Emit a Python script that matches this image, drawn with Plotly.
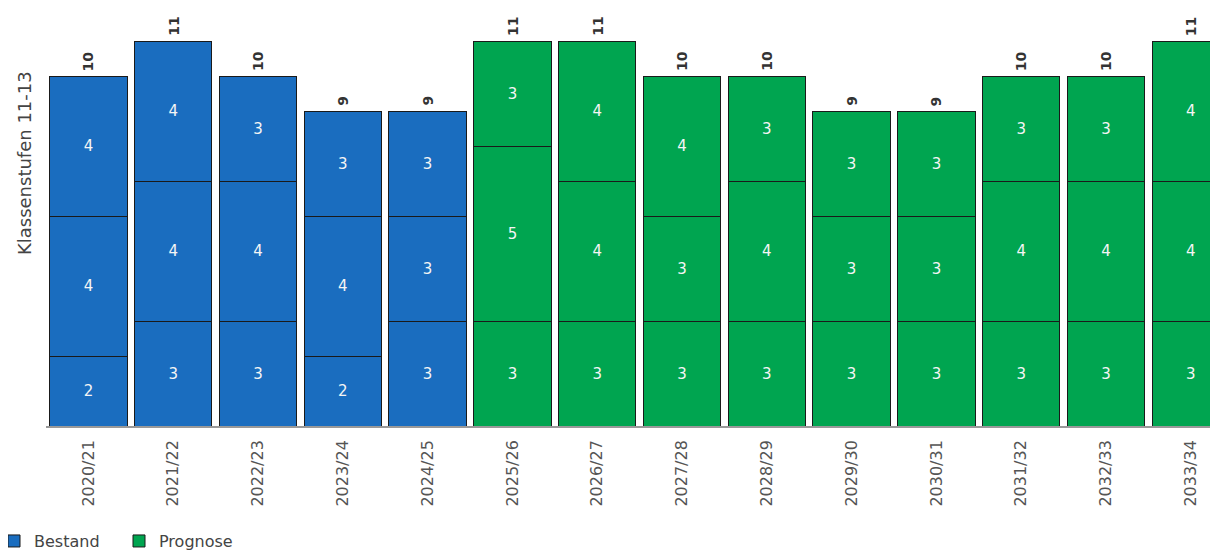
import plotly.graph_objects as go

categories = ["2020/21", "2021/22", "2022/23", "2023/24", "2024/25", "2025/26", "2026/27",
              "2027/28", "2028/29", "2029/30", "2030/31", "2031/32", "2032/33", "2033/34"]
bottom = [2, 3, 3, 2, 3, 3, 3, 3, 3, 3, 3, 3, 3, 3]
middle = [4, 4, 4, 4, 3, 5, 4, 3, 4, 3, 3, 4, 4, 4]
top = [4, 4, 3, 3, 3, 3, 4, 4, 3, 3, 3, 3, 3, 4]
n_bestand = 5
groups = [("Bestand", "#1a6dbf"), ("Prognose", "#00a550")]
y_title = "Klassenstufen 11-13"

fig = go.Figure()
for gi, (name, color) in enumerate(groups):
    sl = slice(0, n_bestand) if gi == 0 else slice(n_bestand, None)
    for si, seg in enumerate([bottom, middle, top]):
        fig.add_trace(go.Bar(
            x=categories[sl], y=seg[sl], name=name, legendgroup=name,
            showlegend=(si == 0),
            marker=dict(color=color, line=dict(color="#1a1a1a", width=1)),
            text=seg[sl], textposition="inside", insidetextanchor="middle",
            textfont=dict(color="#f5f5f5", size=15, family="DejaVu Sans"),
            hoverinfo="skip",
        ))

totals = [b + m + t for b, m, t in zip(bottom, middle, top)]
for c, tv in zip(categories, totals):
    fig.add_annotation(x=c, y=tv, text=f"<b>{tv}</b>", textangle=-90, showarrow=False,
                       yanchor="bottom", yshift=3,
                       font=dict(size=14, color="#333333", family="DejaVu Sans"))

fig.add_annotation(xref="paper", yref="paper", x=0, y=0.683, xshift=-22,
                   xanchor="center", yanchor="middle", text=y_title, textangle=-90,
                   showarrow=False, font=dict(size=18, color="#444444", family="DejaVu Sans"))

fig.update_layout(
    width=1210, height=545,
    margin=dict(l=38, r=0, t=33, b=127, autoexpand=False),
    barmode="stack", bargap=0.088,
    plot_bgcolor="white", paper_bgcolor="white",
    font=dict(family="DejaVu Sans", color="#444444"),
    showlegend=True,
    legend=dict(orientation="h", x=-52 / 1172, xanchor="left", y=-0.343, yanchor="bottom",
                font=dict(size=16, color="#444444"), traceorder="normal",
                bgcolor="rgba(0,0,0,0)",
                entrywidth=80, entrywidthmode="pixels"),
)
fig.update_xaxes(type="category", range=[-0.5, 13.32], tickangle=-90, automargin=False,
                 tickfont=dict(size=16, color="#555555"), showline=True,
                 linecolor="#999999", linewidth=1.5, ticks="", showgrid=False,
                 ticklabelstandoff=6)
fig.update_yaxes(range=[0, 11], showticklabels=False, showgrid=False, zeroline=False,
                 automargin=False)
fig.write_html("out.html")
